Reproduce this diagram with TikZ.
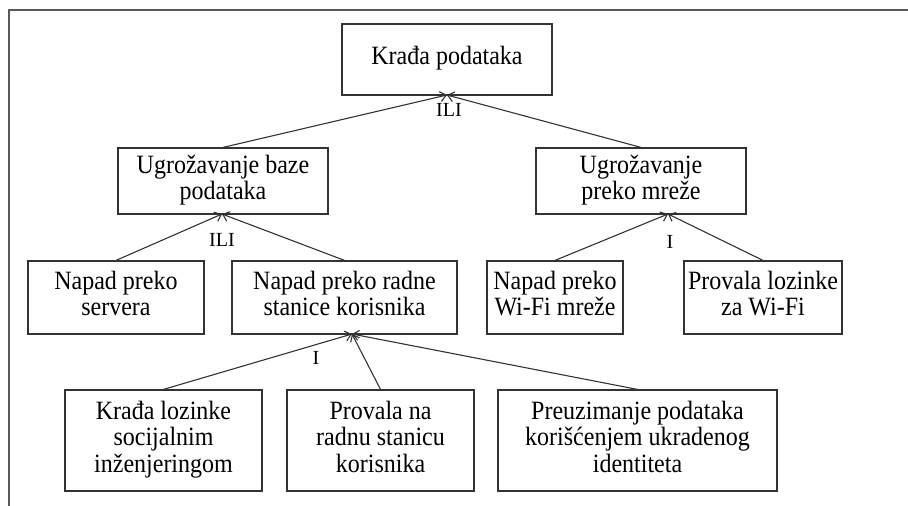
\documentclass[tikz,border=0pt]{standalone}
\usepackage{fontspec}
\setmainfont{Liberation Serif}
\usetikzlibrary{arrows.meta}
\newcommand\tallText[1]{\scalebox{1}[1.1]{\begin{tabular}{@{}c@{}}#1\end{tabular}}}
\begin{document}
\begin{tikzpicture}[x=1pt,y=-1pt,
  box/.style={draw=black!80, line width=1.2pt, inner sep=0pt, align=center, font=\fontsize{24}{24}\selectfont},
  link/.style={draw=black!80, line width=1.1pt, -{Straight Barb[length=6pt,width=10pt]}},
  gate/.style={inner sep=0pt, font=\fontsize{20}{22}\selectfont}]
\useasboundingbox (0,0) rectangle (908,506);
\draw[black!65, line width=1.2pt] (908,10) -- (9,10) -- (9,506);
% level 1
\node[box, minimum width=210pt, minimum height=71pt] (root) at (447,59.5) {\tallText{Krađa podataka}};
% level 2
\node[box, minimum width=210pt, minimum height=66pt] (baza) at (223,181) {\tallText{Ugrožavanje baze\\podataka}};
\node[box, minimum width=210pt, minimum height=66pt] (mreza) at (641,181) {\tallText{Ugrožavanje\\preko mreže}};
% level 3
\node[box, minimum width=176pt, minimum height=73pt] (servera) at (116,297.5) {\tallText{Napad preko\\servera}};
\node[box, minimum width=225pt, minimum height=73pt] (radne) at (344.5,297.5) {\tallText{Napad preko radne\\stanice korisnika}};
\node[box, minimum width=136pt, minimum height=73pt] (wifi) at (555,297.5) {\tallText{Napad preko\\Wi-Fi mreže}};
\node[box, minimum width=158pt, minimum height=73pt] (provala) at (763,297.5) {\tallText{Provala lozinke\\za Wi-Fi}};
% level 4
\node[box, minimum width=197pt, minimum height=101pt] (k1) at (163.5,440.5) {\tallText{Krađa lozinke\\socijalnim\\inženjeringom}};
\node[box, minimum width=187pt, minimum height=101pt] (k2) at (380.5,440.5) {\tallText{Provala na\\radnu stanicu\\korisnika}};
\node[box, minimum width=279pt, minimum height=101pt] (k3) at (637.5,440.5) {\tallText{Preuzimanje podataka\\korišćenjem ukradenog\\identiteta}};
% gate points
\coordinate (g1) at (447,95);
\coordinate (g2) at (222,214);
\coordinate (g3) at (668,214);
\coordinate (g4) at (352,334);
% gate labels
\node[gate] (l1) at (449,110) {ILI};
\node[gate] (l2) at (222,240) {ILI};
\node[gate] (l3) at (670,242) {I};
\node[gate] (l4) at (316,358) {I};
% connectors
\draw[link] (baza.north) -- (g1);
\draw[link] (mreza.north) -- (g1);
\draw[link] (servera.north) -- (g2);
\draw[link] (radne.north) -- (g2);
\draw[link] (wifi.north) -- (g3);
\draw[link] (provala.north) -- (g3);
\draw[link] (k1.north) -- (g4);
\draw[link] (k2.north) -- (g4);
\draw[link] (k3.north) -- (g4);
\end{tikzpicture}
\end{document}
